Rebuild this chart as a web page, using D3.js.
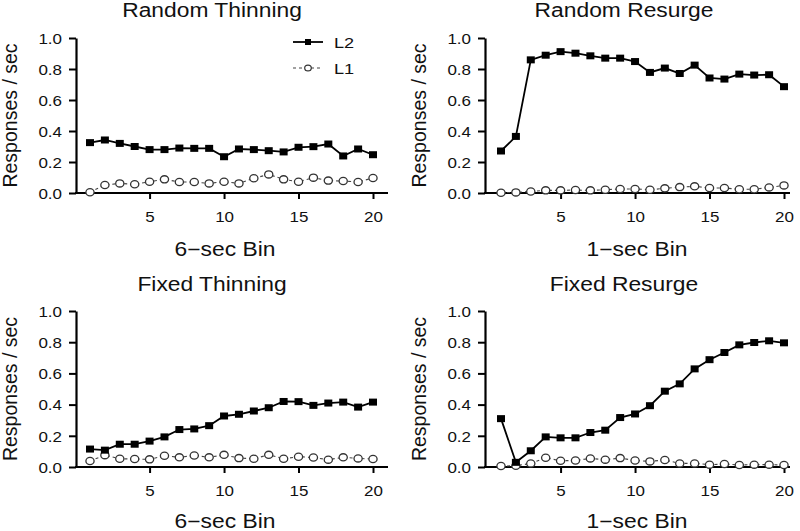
<!DOCTYPE html>
<html>
<head>
<meta charset="utf-8">
<script src="https://cdn.jsdelivr.net/npm/d3@7"></script>
<style>
  html, body { margin: 0; padding: 0; background: #fff; }
  svg { display: block; }
  text { font-family: "Liberation Sans", Arial, Helvetica, sans-serif; fill: #111; }
</style>
</head>
<body>
<svg id="chart" width="800" height="531"></svg>
<script>
// ---------------- data ----------------
const bins = [1, 2, 3, 4, 5, 6, 7, 8, 9, 10, 11, 12, 13, 14, 15, 16, 17, 18, 19, 20];
const xTicks = [5, 10, 15, 20];
const yTicks = [0, 0.2, 0.4, 0.6, 0.8, 1.0];
const seriesNames = ["L2", "L1"];
const panelTitles = ["Random Thinning", "Random Resurge", "Fixed Thinning", "Fixed Resurge"];
const xLabels = ["6\u2212sec Bin", "1\u2212sec Bin", "6\u2212sec Bin", "1\u2212sec Bin"];
const yLabel = "Responses / sec";

const randomThinningL2 = [0.325, 0.342, 0.320, 0.300, 0.280, 0.280, 0.290, 0.288, 0.288, 0.234, 0.284, 0.280, 0.273, 0.265, 0.295, 0.299, 0.316, 0.239, 0.284, 0.247];
const randomThinningL1 = [0.005, 0.052, 0.062, 0.056, 0.073, 0.088, 0.071, 0.071, 0.062, 0.073, 0.062, 0.095, 0.120, 0.088, 0.073, 0.099, 0.080, 0.077, 0.071, 0.097];
const randomResurgeL2 = [0.271, 0.365, 0.859, 0.889, 0.912, 0.902, 0.885, 0.870, 0.870, 0.848, 0.778, 0.806, 0.771, 0.825, 0.742, 0.735, 0.767, 0.761, 0.763, 0.686];
const randomResurgeL1 = [0.002, 0.004, 0.010, 0.017, 0.017, 0.019, 0.017, 0.021, 0.026, 0.026, 0.021, 0.030, 0.038, 0.043, 0.032, 0.032, 0.024, 0.024, 0.036, 0.049];
const fixedThinningL2 = [0.115, 0.108, 0.146, 0.146, 0.166, 0.193, 0.240, 0.244, 0.265, 0.327, 0.338, 0.359, 0.380, 0.420, 0.419, 0.395, 0.410, 0.416, 0.384, 0.416];
const fixedThinningL1 = [0.038, 0.076, 0.053, 0.051, 0.049, 0.072, 0.062, 0.074, 0.062, 0.078, 0.057, 0.053, 0.078, 0.053, 0.066, 0.061, 0.047, 0.062, 0.055, 0.051];
const fixedResurgeL2 = [0.310, 0.030, 0.104, 0.193, 0.187, 0.187, 0.221, 0.236, 0.317, 0.340, 0.393, 0.486, 0.533, 0.629, 0.688, 0.734, 0.783, 0.798, 0.809, 0.796];
const fixedResurgeL1 = [0.006, 0.008, 0.023, 0.059, 0.040, 0.042, 0.055, 0.047, 0.057, 0.042, 0.036, 0.045, 0.023, 0.023, 0.015, 0.019, 0.013, 0.015, 0.015, 0.013];

const panelL2 = [randomThinningL2, randomResurgeL2, fixedThinningL2, fixedResurgeL2];
const panelL1 = [randomThinningL1, randomResurgeL1, fixedThinningL1, fixedResurgeL1];

// ---------------- layout ----------------
const SX = 1.17; // horizontal text stretch seen in the reference
const cols = [
  { axisX: 76, x1: 90, x20: 373, axisEnd: 388, titleX: 212, xlabX: 225, ylabX: 17 },
  { axisX: 485, x1: 501, x20: 784, axisEnd: 790, titleX: 624, xlabX: 637, ylabX: 426 }
];
const rows = [
  { y0: 193, y1: 38, titleY: 17, xlabY: 256 },
  { y0: 467, y1: 311, titleY: 291, xlabY: 528 }
];

const svg = d3.select("#chart");

panelTitles.forEach((title, i) => {
  const c = cols[i % 2], r = rows[Math.floor(i / 2)];
  const x = d3.scaleLinear().domain([bins[0], bins[bins.length - 1]]).range([c.x1, c.x20]);
  const y = d3.scaleLinear().domain([0, 1]).range([r.y0, r.y1]);
  const g = svg.append("g");

  // y axis
  const ya = g.append("g").attr("transform", `translate(${c.axisX},0)`)
    .call(d3.axisLeft(y).tickValues(yTicks).tickFormat(d3.format(".1f")).tickSize(7).tickSizeOuter(0));
  ya.select(".domain").attr("stroke", "#000").attr("stroke-width", 2.2);
  ya.selectAll(".tick line").attr("stroke", "#000").attr("stroke-width", 2);
  ya.selectAll(".tick text")
    .attr("x", 0).attr("dy", "0.36em")
    .attr("transform", `translate(-14,0) scale(${SX},1)`)
    .style("font-size", "14.5px").attr("fill", "#111");

  // x axis
  const xa = g.append("g").attr("transform", `translate(0,${r.y0})`)
    .call(d3.axisBottom(x).tickValues(xTicks).tickSize(6).tickSizeOuter(0));
  xa.select(".domain").remove();
  xa.selectAll(".tick line").attr("stroke", "#000").attr("stroke-width", 2);
  xa.selectAll(".tick text")
    .attr("y", 29).attr("dy", 0)
    .attr("transform", `scale(${SX},1)`)
    .style("font-size", "14.5px").attr("fill", "#111");
  g.append("line")
    .attr("x1", c.axisX - 1).attr("x2", c.axisEnd)
    .attr("y1", r.y0).attr("y2", r.y0)
    .attr("stroke", "#000").attr("stroke-width", 2);

  // titles and labels
  g.append("text").text(title)
    .attr("text-anchor", "middle")
    .attr("transform", `translate(${c.titleX},${r.titleY}) scale(${SX},1)`)
    .style("font-size", "19.5px");
  g.append("text").text(xLabels[i])
    .attr("text-anchor", "middle")
    .attr("transform", `translate(${c.xlabX},${r.xlabY}) scale(${SX},1)`)
    .style("font-size", "19.5px");
  g.append("text").text(yLabel)
    .attr("text-anchor", "middle")
    .attr("transform", `translate(${c.ylabX},${(r.y0 + r.y1) / 2}) rotate(-90)`)
    .style("font-size", "19.5px");

  // L1 series (dashed, open circles)
  const l1 = panelL1[i], l2 = panelL2[i];
  const line = d3.line().x((d, k) => x(bins[k])).y(d => y(d));
  g.append("path").datum(l1)
    .attr("d", line).attr("fill", "none")
    .attr("stroke", "#444").attr("stroke-width", 1.1).attr("stroke-dasharray", "3,3");
  g.selectAll(".c").data(l1).enter().append("ellipse")
    .attr("cx", (d, k) => x(bins[k])).attr("cy", d => y(d))
    .attr("rx", 4.1).attr("ry", 3.6)
    .attr("fill", "#fff").attr("stroke", "#333").attr("stroke-width", 1.3);

  // L2 series (solid, filled squares)
  g.append("path").datum(l2)
    .attr("d", line).attr("fill", "none")
    .attr("stroke", "#000").attr("stroke-width", 1.8);
  g.selectAll(".s").data(l2).enter().append("rect")
    .attr("x", (d, k) => x(bins[k]) - 4).attr("y", d => y(d) - 3.5)
    .attr("width", 8).attr("height", 7)
    .attr("fill", "#000");

  // legend in first panel
  if (i === 0) {
    const leg = g.append("g");
    const rowsY = [42, 68];
    seriesNames.forEach((name, k) => {
      const ly = rowsY[k];
      leg.append("line").attr("x1", 293).attr("x2", 323).attr("y1", ly).attr("y2", ly)
        .attr("stroke", k === 0 ? "#000" : "#444")
        .attr("stroke-width", k === 0 ? 1.8 : 1.1)
        .attr("stroke-dasharray", k === 0 ? null : "3,3");
      if (k === 0) {
        leg.append("rect").attr("x", 305).attr("y", ly - 3).attr("width", 6).attr("height", 6).attr("fill", "#000");
      } else {
        leg.append("ellipse").attr("cx", 308).attr("cy", ly).attr("rx", 3.3).attr("ry", 2.9)
          .attr("fill", "#fff").attr("stroke", "#333").attr("stroke-width", 1.2);
      }
      leg.append("text").text(name)
        .attr("transform", `translate(334,${ly + 6}) scale(${SX},1)`)
        .style("font-size", "15.5px");
    });
  }
});
</script>
</body>
</html>
